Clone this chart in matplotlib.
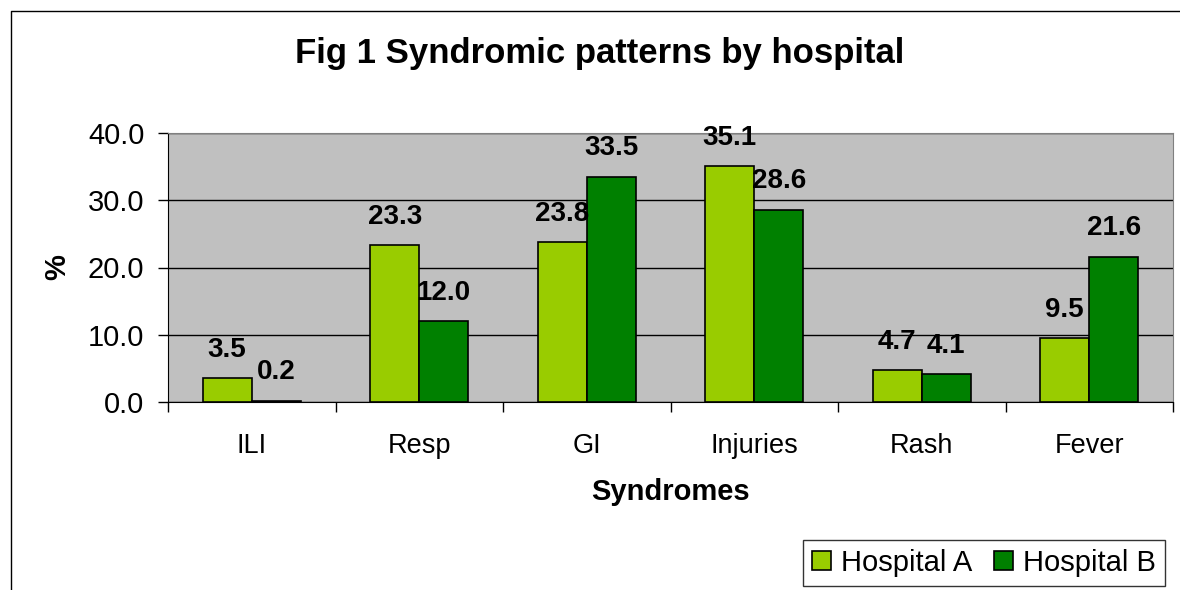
import matplotlib.pyplot as plt
import numpy as np
from matplotlib.lines import Line2D

plt.rcParams['font.family'] = ['Liberation Sans', 'DejaVu Sans']

syndromes = ['ILI', 'Resp', 'GI', 'Injuries', 'Rash', 'Fever']
hosp_a = [3.5, 23.3, 23.8, 35.1, 4.7, 9.5]
hosp_b = [0.2, 12.0, 33.5, 28.6, 4.1, 21.6]

fig = plt.figure(figsize=(11.8, 5.9), dpi=100)
ax = fig.add_axes([168/1180, 188/590, 1005/1180, 269/590])
ax.set_facecolor('#C0C0C0')

x = np.arange(len(syndromes))
w = 0.293
b1 = ax.bar(x - w/2, hosp_a, w, color='#99CC00', edgecolor='black', linewidth=1.2,
            label='Hospital A', zorder=3)
b2 = ax.bar(x + w/2, hosp_b, w, color='#008000', edgecolor='black', linewidth=1.2,
            label='Hospital B', zorder=3)

for bars, vals in [(b1, hosp_a), (b2, hosp_b)]:
    for r, v in zip(bars, vals):
        ax.annotate('%.1f' % v, (r.get_x() + r.get_width()/2, v), xytext=(0, 11),
                    textcoords='offset points', ha='center', va='bottom',
                    fontsize=20, fontweight='bold', zorder=5, annotation_clip=False)

ax.set_xlim(-0.5, len(syndromes) - 0.5)
ax.set_ylim(0, 40)
ax.set_yticks([0, 10, 20, 30, 40])
ax.set_yticklabels(['%.1f' % t for t in [0, 10, 20, 30, 40]])
ax.yaxis.grid(True, color='black', linewidth=1)
ax.set_axisbelow(True)

ax.set_xticks(np.arange(-0.5, len(syndromes)), minor=False)
ax.set_xticklabels([])
ax.set_xticks(x, minor=True)
ax.set_xticklabels(syndromes, minor=True)
ax.tick_params(axis='x', which='major', direction='out', length=7, width=1)
ax.tick_params(axis='x', which='minor', length=0, labelsize=19.5, pad=22)
ax.tick_params(axis='y', direction='out', length=7, width=1, labelsize=21, pad=10)

for s in ['top', 'right']:
    ax.spines[s].set_color('#808080')
for s in ['left', 'bottom']:
    ax.spines[s].set_color('black')

ax.set_xlabel('Syndromes', fontsize=21, fontweight='bold', labelpad=14)
ax.set_ylabel('%', fontsize=21, fontweight='bold', labelpad=12)

fig.text(600/1180, 1 - 53/590, 'Fig 1 Syndromic patterns by hospital', ha='center',
         va='center', fontsize=25, fontweight='bold')

leg = fig.legend(loc='upper left', bbox_to_anchor=(803/1180, 1 - 540/590), ncol=2,
                 fontsize=21, frameon=True, fancybox=False, borderpad=0.3,
                 handlelength=0.65, handleheight=0.65, handletextpad=0.35,
                 columnspacing=0.75, borderaxespad=0)
leg.get_frame().set_edgecolor('black')
leg.get_frame().set_linewidth(1)

# outer chart frame: only left and top edges fall inside the picture
fig.lines.append(Line2D([10.5/1180, 10.5/1180, 1.0], [0.0, 1 - 10.5/590, 1 - 10.5/590],
                        color='black', linewidth=1, transform=fig.transFigure))

plt.savefig('out.png', dpi=100)
